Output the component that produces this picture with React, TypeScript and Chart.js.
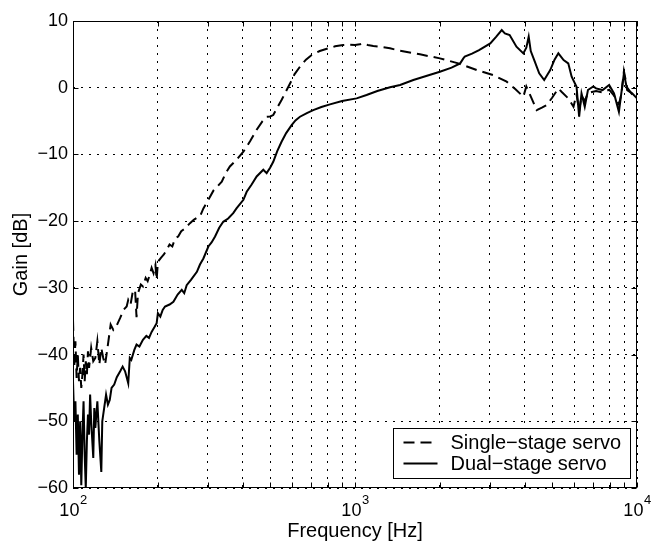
import React, { useEffect, useRef } from "react";
import { Chart, registerables } from "chart.js";

Chart.register(...registerables);

// ---------- data ----------
const singleFreq = [
  100, 101, 102, 103, 104, 105, 106, 107, 108, 109,
  110, 111, 112, 113, 114, 116, 118, 120, 122, 124,
  126, 128, 130, 133, 136, 139, 143, 147, 151, 155,
  157, 160, 163, 166, 168, 170, 174, 177, 181, 184,
  187, 190, 193, 196, 198, 200, 205, 210, 215, 220,
  225, 230, 236, 242, 248, 253, 260, 268, 275, 282,
  290, 302, 315, 325, 337, 348, 360, 380, 402, 425,
  448, 470, 486, 500, 513, 530, 549, 570, 589, 610,
  638, 670, 702, 750, 804, 850, 908, 960, 1000, 1040,
  1072, 1110, 1161, 1227, 1331, 1445, 1700, 2000, 2324, 2701,
  3093, 3450, 3700, 3954, 4050, 4150, 4408, 4600, 4786, 5000,
  5262, 5400, 5705, 5954, 6104, 6235, 6357, 6527, 6700, 7158,
  7549, 7967, 8290, 8627, 8800, 8987, 9230, 9611, 10000,
];
const singleGain = [
  -34.8, -42, -38, -43.5, -40, -44, -42, -45, -43, -40,
  -44, -41, -43, -39.5, -42, -39, -41, -40.5, -38, -41.5,
  -39, -40.5, -41.5, -38.5, -35.5, -36.3, -35.6, -34.5, -33.3, -32.8,
  -31.8, -32.5, -30.5, -30.3, -34.4, -30.8, -29.5, -29.8, -28.5, -29,
  -28.1, -27, -27.8, -26.6, -28.8, -26.1, -25.5, -25, -24.3, -23.5,
  -23.8, -22.6, -22.3, -21.5, -21.2, -20.8, -20.3, -19.8, -19.5, -19.3,
  -18.1, -16.8, -15.4, -14.8, -14.1, -12.8, -11.8, -10.8, -9.6, -8.0,
  -6.3, -5.0, -4.35, -4.3, -4.1, -3.0, -1.85, -0.5, 0.66, 2.0,
  3.15, 4.2, 4.9, 5.5, 5.9, 6.2, 6.4, 6.45, 6.4, 6.5,
  6.65, 6.4, 6.25, 6.15, 5.9, 5.55, 5.0, 4.4, 3.65, 2.65,
  1.9, 0.9, -0.2, -1.35, 0.2, -0.8, -3.35, -3.0, -2.6, -1.5,
  -0.1, -0.6, -1.6, -2.85, -1.0, -3.5, -1.2, -2.0, -0.8, -0.5,
  -0.7, -0.3, -1.2, -2.5, -1.0, 2.5, 0.0, -1.0, -1.6,
];

const dualFreq = [
  100, 101, 102, 103, 104, 105, 106, 107, 108, 109,
  110, 111, 112, 113, 114, 115, 116, 118, 119, 120,
  122, 124, 126, 127, 129, 131, 133, 135, 137, 140,
  143, 147, 150, 153, 157, 159, 161, 165, 168, 172,
  177, 182, 186, 190, 195, 198, 200, 204, 208, 212,
  220, 227, 235, 243, 248, 253, 262, 275, 282, 290,
  302, 310, 319, 330, 341, 355, 370, 380, 402, 413,
  430, 448, 473, 486, 500, 513, 530, 549, 570, 596,
  615, 638, 675, 711, 760, 815, 900, 1013, 1099, 1200,
  1331, 1445, 1610, 1800, 2000, 2200, 2360, 2422, 2450, 2600,
  2754, 3018, 3170, 3314, 3400, 3535, 3737, 3954, 4050, 4130,
  4200, 4321, 4500, 4687, 4924, 5100, 5262, 5492, 5705, 5865,
  6104, 6235, 6357, 6527, 6700, 7000, 7158, 7549, 7967, 8290,
  8627, 8987, 9230, 9611, 10000,
];
const dualGain = [
  -44, -50, -47, -55, -49, -58, -50, -59.6, -52, -47,
  -55, -60, -53, -49, -52, -46, -50, -55.5, -48, -51,
  -47, -53, -57.6, -50, -48, -46, -47.5, -46.8, -45, -44.5,
  -43.4, -42.5, -41.8, -42.5, -44.3, -40.5, -40.8, -39.3, -38.5, -38.8,
  -37.8, -37.2, -37.5, -36.6, -35.8, -35.3, -33.8, -34.3, -33.3, -32.8,
  -32.5, -32.1, -31, -30.3, -30.8, -29.6, -28.8, -27.6, -26.5, -25.6,
  -23.8, -23.2, -22.3, -21, -20.1, -19.6, -18.8, -18.1, -16.8, -15.6,
  -14.5, -13.3, -12.3, -12.8, -12, -11.1, -9.5, -8.1, -6.8, -5.6,
  -4.9, -4.35, -3.8, -3.35, -2.9, -2.5, -2.0, -1.6, -1.1, -0.5,
  0.06, 0.4, 1.15, 1.8, 2.4, 3.0, 3.65, 4.4, 4.65, 5.1,
  5.65, 6.65, 7.65, 8.65, 8.15, 7.9, 6.15, 5.15, 6.0, 7.65,
  5.5, 4.15, 2.15, 1.15, 2.65, 4.2, 5.15, 4.15, 3.65, 1.65,
  0.15, -4.35, -0.85, -2.85, -0.35, 0.2, -0.1, -0.35, 0.4, -0.85,
  -3.6, 2.15, -0.35, -0.85, -1.6,
];

const seriesLabels = ["Single\u2212stage servo", "Dual\u2212stage servo"];
const xGridTicks = [
  100, 200, 300, 400, 500, 600, 700, 800, 900,
  1000, 2000, 3000, 4000, 5000, 6000, 7000, 8000, 9000, 10000,
];
const xTickExponents = [2, 3, 4];
const yTickValues = [-60, -50, -40, -30, -20, -10, 0, 10];
const xTitle = "Frequency [Hz]";
const yTitle = "Gain [dB]";

const FONT = "'Liberation Sans', Arial, Helvetica, sans-serif";

const toPoints = (xs: number[], ys: number[]) => xs.map((x, i) => ({ x, y: ys[i] }));

const matlabPlugin = {
  id: "matlabAxes",
  afterDraw(chart: any) {
    const { ctx, chartArea: a, scales } = chart;
    const xs = scales.x;
    const ys = scales.y;
    const TICK = 5;
    ctx.save();
    ctx.setLineDash([]);
    ctx.strokeStyle = "#000";
    ctx.lineWidth = 1;
    const L = Math.round(a.left) + 0.5;
    const R = Math.round(a.right) - 0.5;
    const T = Math.round(a.top) + 0.5;
    const B = Math.round(a.bottom) - 0.5;
    ctx.beginPath();
    for (const v of xGridTicks) {
      const px = Math.round(xs.getPixelForValue(v)) + 0.5;
      ctx.moveTo(px, B);
      ctx.lineTo(px, B - TICK);
      ctx.moveTo(px, T);
      ctx.lineTo(px, T + TICK);
    }
    for (const v of yTickValues) {
      const py = Math.round(ys.getPixelForValue(v)) + 0.5;
      ctx.moveTo(L, py);
      ctx.lineTo(L + TICK, py);
      ctx.moveTo(R, py);
      ctx.lineTo(R - TICK, py);
    }
    ctx.stroke();
    ctx.strokeRect(L, T, R - L, B - T);

    // x tick labels 10^n
    ctx.fillStyle = "#000";
    ctx.textBaseline = "alphabetic";
    ctx.textAlign = "left";
    for (const e of xTickExponents) {
      const px = xs.getPixelForValue(Math.pow(10, e));
      ctx.font = `18px ${FONT}`;
      const wBase = ctx.measureText("10").width;
      ctx.font = `13px ${FONT}`;
      const wExp = ctx.measureText(String(e)).width;
      const start = px - (wBase + wExp) / 2;
      ctx.font = `18px ${FONT}`;
      ctx.fillText("10", start, a.bottom + 28);
      ctx.font = `13px ${FONT}`;
      ctx.fillText(String(e), start + wBase + 0.5, a.bottom + 16);
    }

    // legend
    const lw = 237;
    const lh = 50;
    const lx = Math.round(a.right - 7 - lw) + 0.5;
    const ly = Math.round(a.bottom - 10 - lh) + 0.5;
    ctx.fillStyle = "#fff";
    ctx.fillRect(lx, ly, lw, lh);
    ctx.strokeStyle = "#000";
    ctx.lineWidth = 1;
    ctx.strokeRect(lx, ly, lw, lh);
    chart.data.datasets.forEach((ds: any, i: number) => {
      const yy = ly + 14 + i * 21;
      ctx.save();
      ctx.strokeStyle = ds.borderColor;
      ctx.lineWidth = ds.borderWidth;
      ctx.setLineDash(ds.borderDash || []);
      ctx.beginPath();
      ctx.moveTo(lx + 10, yy);
      ctx.lineTo(lx + 44, yy);
      ctx.stroke();
      ctx.restore();
      ctx.fillStyle = "#000";
      ctx.font = `20px ${FONT}`;
      ctx.textBaseline = "middle";
      ctx.textAlign = "left";
      ctx.fillText(ds.label, lx + 57, yy + 1);
    });
    ctx.restore();
  },
};

export default function App() {
  const ref = useRef<HTMLCanvasElement | null>(null);
  useEffect(() => {
    if (!ref.current) return;
    const chart = new Chart(ref.current, {
      type: "line",
      data: {
        datasets: [
          {
            label: seriesLabels[0],
            data: toPoints(singleFreq, singleGain),
            borderColor: "#000",
            borderWidth: 2,
            borderDash: [11, 6],
            pointRadius: 0,
            tension: 0,
            fill: false,
          },
          {
            label: seriesLabels[1],
            data: toPoints(dualFreq, dualGain),
            borderColor: "#000",
            borderWidth: 2,
            pointRadius: 0,
            tension: 0,
            fill: false,
          },
        ],
      },
      options: {
        responsive: false,
        animation: false,
        devicePixelRatio: 1,
        layout: { padding: { left: 0, top: 21, right: 15, bottom: 0 } },
        plugins: { legend: { display: false }, tooltip: { enabled: false } },
        scales: {
          x: {
            type: "logarithmic",
            min: 100,
            max: 10000,
            afterBuildTicks: (scale: any) => {
              scale.ticks = xGridTicks.map((v) => ({ value: v }));
            },
            afterFit: (scale: any) => {
              scale.height = 55;
            },
            ticks: { display: false },
            grid: { color: "#000", lineWidth: 1, drawTicks: false },
            border: { display: false, dash: [2, 6] },
            title: {
              display: true,
              text: xTitle,
              color: "#000",
              font: { family: FONT, size: 20 },
              padding: { top: 0, bottom: 0 },
            },
          },
          y: {
            type: "linear",
            min: -60,
            max: 10,
            afterBuildTicks: (scale: any) => {
              scale.ticks = yTickValues.map((v) => ({ value: v }));
            },
            afterFit: (scale: any) => {
              scale.width = 73;
            },
            ticks: {
              color: "#000",
              font: { family: FONT, size: 18 },
              padding: 5,
              callback: (v: any) => (Number(v) < 0 ? "\u2212" + Math.abs(Number(v)) : String(v)),
            },
            grid: { color: "#000", lineWidth: 1, drawTicks: false },
            border: { display: false, dash: [2, 6] },
            title: {
              display: true,
              text: yTitle,
              color: "#000",
              font: { family: FONT, size: 20 },
              padding: { top: 9, bottom: 0 },
            },
          },
        },
      },
      plugins: [matlabPlugin],
    });
    return () => chart.destroy();
  }, []);
  return (
    <div style={{ position: "fixed", left: 0, top: 0, width: 652, height: 543, background: "#fff" }}>
      <canvas ref={ref} width={652} height={543} style={{ width: 652, height: 543 }} />
    </div>
  );
}
